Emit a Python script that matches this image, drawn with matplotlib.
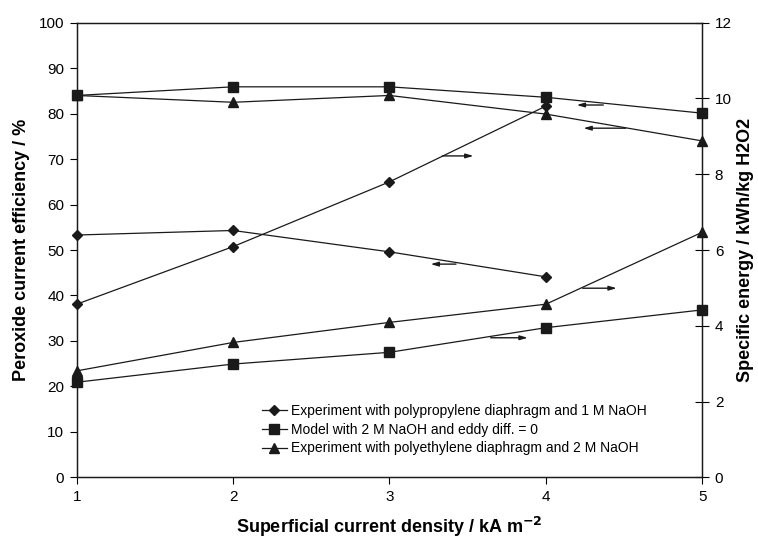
import numpy as np
import matplotlib
matplotlib.use("Agg")
import matplotlib.pyplot as plt

plt.rcParams['font.family'] = ['Liberation Sans', 'DejaVu Sans']

# current density, kA m-2
density = [1, 2, 3, 4, 5]

# polypropylene diaphragm, 1 M NaOH (only 4 points)
pp_eff = [53.3, 54.3, 49.6, 44.1]
pp_energy = [4.57, 6.09, 7.80, 9.80]

# model, 2 M NaOH, eddy diff = 0
model_eff = [84.0, 85.9, 85.9, 83.6, 80.1]
model_energy = [2.51, 2.99, 3.30, 3.95, 4.42]

# polyethylene diaphragm, 2 M NaOH
pe_eff = [84.0, 82.5, 84.0, 79.9, 74.0]
pe_energy = [2.81, 3.56, 4.09, 4.57, 6.47]

labels = ['Experiment with polypropylene diaphragm and 1 M NaOH',
          'Model with 2 M NaOH and eddy diff. = 0',
          'Experiment with polyethylene diaphragm and 2 M NaOH']

# arrows telling which axis a curve belongs to: (x_start, x_end, y on left axis)
arrows = [(4.367, 4.197, 81.9), (4.51, 4.24, 76.8), (3.425, 3.263, 46.9),
          (4.235, 4.453, 41.6), (3.647, 3.884, 30.7), (3.338, 3.537, 70.7)]

col = '#1a1a1a'

fig = plt.figure(figsize=(7.58, 5.41), dpi=100)
ax = fig.add_axes([0.1012, 0.1177, 0.8253, 0.8403])
ax2 = ax.twinx()

style = dict(color=col, lw=0.9, clip_on=False)

# energy curves (right axis)
ax2.plot(density[:4], pp_energy, marker='D', ms=5.5, **style)
ax2.plot(density, model_energy, marker='s', ms=6.5, **style)
ax2.plot(density, pe_energy, marker='^', ms=6.5, **style)

# efficiency curves (left axis)
l1, = ax.plot(density[:4], pp_eff, marker='D', ms=5.5, **style)
l2, = ax.plot(density, model_eff, marker='s', ms=6.5, **style)
l3, = ax.plot(density, pe_eff, marker='^', ms=6.5, **style)

for x0, x1, y in arrows:
    ax.annotate('', xy=(x1, y), xytext=(x0, y),
                arrowprops=dict(arrowstyle='-|>,head_length=0.45,head_width=0.13',
                                color=col, lw=1.0, shrinkA=0, shrinkB=0))

ax.set_xlim(1, 5)
ax.set_ylim(0, 100)
ax2.set_ylim(0, 12)
ax.set_xticks(density)
ax.set_yticks(np.arange(0, 101, 10))
ax2.set_yticks(np.arange(0, 13, 2))

ax.tick_params(axis='both', direction='out', length=5, width=0.8, labelsize=11, pad=4)
ax2.tick_params(axis='y', direction='inout', length=10, width=0.8, labelsize=11, pad=4)
for a in (ax, ax2):
    for s in a.spines.values():
        s.set_linewidth(0.9)
        s.set_color(col)

ax.set_xlabel('Superficial current density / kA m$^{\\mathbf{-2}}$', fontsize=13,
              fontweight='bold', labelpad=8)
ax.set_ylabel('Peroxide current efficiency / %', fontsize=13, fontweight='bold', labelpad=6)
ax2.set_ylabel('Specific energy / kWh/kg H2O2', fontsize=13, fontweight='bold', labelpad=4)

ax.legend([l1, l2, l3], labels, loc='lower left', bbox_to_anchor=(0.287, 0.036),
          frameon=False, fontsize=10, handlelength=1.8, handletextpad=0.3,
          labelspacing=0.35, borderaxespad=0)

fig.savefig('out.png', dpi=100)
